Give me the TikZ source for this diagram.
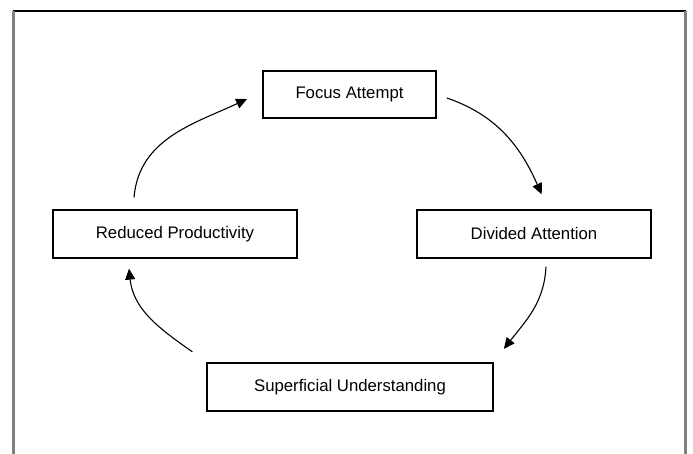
\documentclass[tikz,border=0pt]{standalone}
\usepackage{fontspec}
\setmainfont{Liberation Sans}
\usetikzlibrary{arrows.meta}

\begin{document}
\begin{tikzpicture}[x=1pt, y=1pt,
    stage/.style={draw=black, line width=1.8pt, minimum height=47.5pt,
        inner sep=0pt, font=\fontsize{16.75}{20}\selectfont},
    flow/.style={line width=1.1pt, -{Triangle[length=11pt, width=10pt]}}]

\useasboundingbox (0, 0) rectangle (693, 454);

% Frame
\draw[black, line width=1.6pt] (12.5, 443.2) -- (686.3, 443.2);
\draw[black!50, line width=2.5pt] (13.3, -5) -- (13.3, 443.2);
\draw[black!50, line width=2.5pt] (685.5, -5) -- (685.5, 443.2);

% Stages
\node[stage, minimum width=173pt] (focus)       at (349.5, 359.5) {Focus Attempt};
\node[stage, minimum width=234pt] (divided)     at (534,   220)   {Divided Attention};
\node[stage, minimum width=286pt] (superficial) at (350,   67)    {Superficial Understanding};
\node[stage, minimum width=244pt] (reduced)     at (175,   220)   {Reduced Productivity};

% Cycle
\draw[flow] ([shift={(10,-3.5)}]focus.east)
    to[out=-19, in=114] ([shift={(7.7,15)}]divided.north);
\draw[flow] ([shift={(12,-8)}]divided.south)
    to[out=-93, in=52] ([shift={(10,13.5)}]superficial.north east);
\draw[flow] ([shift={(-13.7,10.5)}]superficial.north west)
    to[out=145, in=-84] ([shift={(-46,-10)}]reduced.south);
\draw[flow] ([shift={(-41,12)}]reduced.north)
    to[out=85, in=-155] ([shift={(-15,-4.5)}]focus.west);

\end{tikzpicture}
\end{document}
